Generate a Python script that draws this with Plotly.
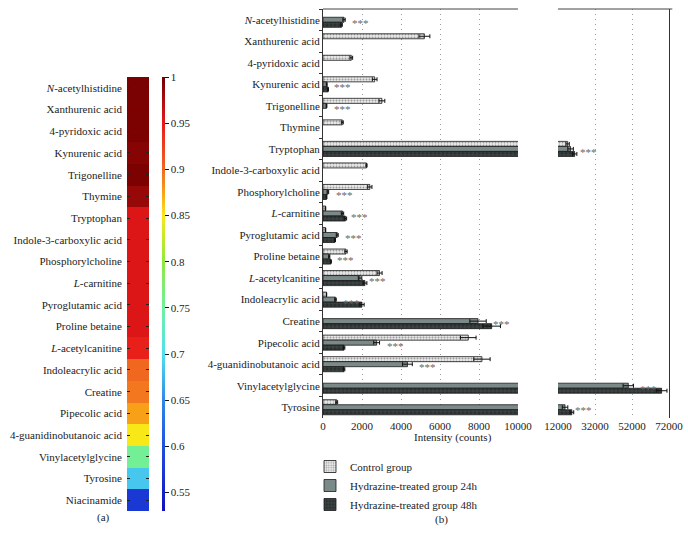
import plotly.graph_objects as go

W, H = 688, 547
FONT = "Liberation Serif, Times New Roman, serif"

# ---------------- data ----------------
heat_labels = ["<i>N</i>-acetylhistidine", "Xanthurenic acid", "4-pyridoxic acid", "Kynurenic acid",
               "Trigonelline", "Thymine", "Tryptophan", "Indole-3-carboxylic acid", "Phosphorylcholine",
               "<i>L</i>-carnitine", "Pyroglutamic acid", "Proline betaine", "<i>L</i>-acetylcanitine",
               "Indoleacrylic acid", "Creatine", "Pipecolic acid", "4-guanidinobutanoic acid",
               "Vinylacetylglycine", "Tyrosine", "Niacinamide"]
heat_values = [0.996, 0.995, 0.995, 0.991, 0.995, 0.984, 0.955, 0.955, 0.955,
               0.955, 0.955, 0.955, 0.946, 0.9, 0.893, 0.875, 0.85, 0.755, 0.686, 0.574]
colorbar_ticks = [0.55, 0.6, 0.65, 0.7, 0.75, 0.8, 0.85, 0.9, 0.95, 1.0]

categories = heat_labels[:19]
control = [None, 5200, 1450, 2650, 3020, 990, 17200, 2230, 2400, 130, 130, 1180, 2900, 180,
           None, 7450, 8150, None, 700]
control_err = [None, 280, 70, 120, 150, 50, 900, 30, 110, 10, 10, 60, 130, 10,
               None, 400, 420, None, 50]
h24 = [1080, None, None, 190, 180, None, 18800, None, 250, 1000, 730, 320, 1900, 640,
       7950, 2750, 4330, 50000, 15800]
h24_err = [60, None, None, 20, 20, None, 1500, None, 40, 60, 50, 30, 90, 40,
           420, 150, 250, 2800, 1500]
h48 = [950, None, None, 260, None, None, 21000, None, 180, 1150, 610, 400, 2150, 2000,
       8650, 1080, 1080, 68000, 19500]
h48_err = [40, None, None, 20, None, None, 1200, None, 20, 60, 30, 30, 100, 110,
           450, 40, 40, 2900, 1000]
significant = [True, False, False, True, True, False, True, False, True, True, True, True,
               True, True, True, True, True, True, True]

left_ticks = [0, 2000, 4000, 6000, 8000, 10000]
right_ticks = [12000, 32000, 52000, 72000]
BREAK = 10000

series = [
    ("Control group", control, control_err,
     dict(color="#e4e4e4", pattern=dict(shape=".", fgcolor="#9c9c9c", bgcolor="#ececec", size=3, solidity=0.35))),
    ("Hydrazine-treated group 24h", h24, h24_err, dict(color="#7b8a88")),
    ("Hydrazine-treated group 48h", h48, h48_err,
     dict(color="#2d3333", pattern=dict(shape="+", fgcolor="#4d5656", bgcolor="#2b3131", size=4, solidity=0.25))),
]


def px(x):
    return x / W


def py(y):
    return 1 - y / H


fig = go.Figure()

# ---------------- heatmap (a) ----------------
cscale = [
    [0.0, "#1010c0"], [0.149, "#2050e0"], [0.255, "#3088e8"], [0.362, "#50e0f0"],
    [0.468, "#70f0a0"], [0.574, "#90e840"], [0.681, "#f8e818"], [0.734, "#f8a018"],
    [0.787, "#f06820"], [0.894, "#e81818"], [1.0, "#700000"],
]
fig.add_trace(go.Heatmap(
    z=[[v] for v in heat_values], x=[0], y=heat_labels,
    xaxis="x3", yaxis="y3", colorscale=cscale, zmin=0.53, zmax=1.0,
    hoverinfo="skip",
    colorbar=dict(x=px(161.5), xanchor="left", thickness=3, len=434, lenmode="pixels",
                  y=py(294), yanchor="middle", outlinewidth=0, ticks="outside", ticklen=4,
                  tickcolor="#111", tickvals=colorbar_ticks,
                  ticktext=[("%g" % t) for t in colorbar_ticks],
                  tickfont=dict(family=FONT, size=11, color="#222"), xpad=0, ypad=0),
))

# ---------------- bars (b) ----------------
for xa, ya, show in (("x", "y", True), ("x2", "y2", False)):
    for name, vals, errs, mk in series:
        fig.add_trace(go.Bar(
            y=categories, x=vals, orientation="h", name=name, xaxis=xa, yaxis=ya,
            showlegend=show,
            marker=dict(line=dict(color="#1a1a1a", width=0.8), **mk),
            error_x=dict(type="data", array=errs, color="#111", thickness=1, width=2),
        ))

# significance stars next to the 24h bars
for cat, v, e, sig in zip(categories, h24, h24_err, significant):
    if not sig:
        continue
    fig.add_annotation(x=v + (e or 0), y=cat, xref="x2" if v > BREAK else "x", yref="y",
                       text="***", showarrow=False, xanchor="left", yanchor="middle",
                       xshift=5, yshift=-3, font=dict(family=FONT, size=11, color="#666666"))

axis_font = dict(family=FONT, size=11, color="#222")
grid = dict(showgrid=True, gridcolor="#9a9a9a", griddash="1px,4px", gridwidth=1)
fig.update_layout(
    template="none",
    width=W, height=H, margin=dict(l=0, r=0, t=0, b=0, pad=0, autoexpand=False),
    paper_bgcolor="white", plot_bgcolor="white",
    barmode="group", bargap=0.3, bargroupgap=0,
    font=dict(family=FONT, size=11, color="#222"),
    xaxis=dict(domain=[px(323), px(518)], range=[0, BREAK], anchor="y", tickvals=left_ticks,
               ticktext=[str(t) for t in left_ticks], automargin=False,
               zeroline=False, showline=False, ticks="", tickfont=axis_font, **grid),
    xaxis2=dict(domain=[px(558), px(669)], range=[right_ticks[0], right_ticks[-1]], anchor="y2",
                tickvals=right_ticks, ticktext=[str(t) for t in right_ticks], automargin=False,
                zeroline=False, showline=False, ticks="", tickfont=axis_font, **grid),
    yaxis=dict(domain=[py(418), py(9)], type="category", categoryorder="array",
               categoryarray=categories, range=[18.5, -0.5], anchor="x", automargin=False,
               showline=True, linecolor="#333", linewidth=1, ticks="outside", ticklen=3,
               tickcolor="#333", tickson="boundaries", tickfont=axis_font, showgrid=False,
               zeroline=False),
    yaxis2=dict(domain=[py(418), py(9)], matches="y", type="category", anchor="x2",
                side="right", showline=True, linecolor="#333", linewidth=1, automargin=False,
                showticklabels=False, ticks="", showgrid=False, zeroline=False),
    xaxis3=dict(domain=[px(127), px(149)], range=[-0.5, 0.5], anchor="y3", automargin=False,
                showticklabels=False, showgrid=False, zeroline=False, ticks="", showline=False),
    yaxis3=dict(domain=[py(511), py(77)], type="category", range=[19.5, -0.5], anchor="x3",
                ticks="inside", ticklen=3, tickcolor="#222", mirror="ticks", showline=False,
                showgrid=False, zeroline=False, tickfont=axis_font, ticklabelstandoff=4,
                automargin=False),
    legend=dict(x=px(310), y=py(452), xanchor="left", yanchor="top", bgcolor="rgba(0,0,0,0)",
                borderwidth=0, font=dict(family=FONT, size=11, color="#222"), tracegroupgap=0),
    shapes=[
        dict(type="line", xref="x domain", yref="y domain", x0=0, x1=1, y0=1, y1=1,
             line=dict(color="#444", width=1)),
        dict(type="line", xref="x2 domain", yref="y2 domain", x0=0, x1=1.03, y0=1, y1=1,
             line=dict(color="#444", width=1)),
    ],
)

fig.add_annotation(x=px(494), y=py(446), xref="paper", yref="paper", text="Intensity (counts)",
                   showarrow=False, font=dict(family=FONT, size=11, color="#222"))
fig.add_annotation(x=px(95), y=py(526), xref="paper", yref="paper", text="(a)",
                   showarrow=False, font=dict(family=FONT, size=11, color="#222"))
fig.add_annotation(x=px(441), y=py(528), xref="paper", yref="paper", text="(b)",
                   showarrow=False, font=dict(family=FONT, size=11, color="#222"))

fig.write_html("out.html", config={"displayModeBar": False},
               post_script="document.body.style.margin='0';document.body.style.overflow='hidden';")
